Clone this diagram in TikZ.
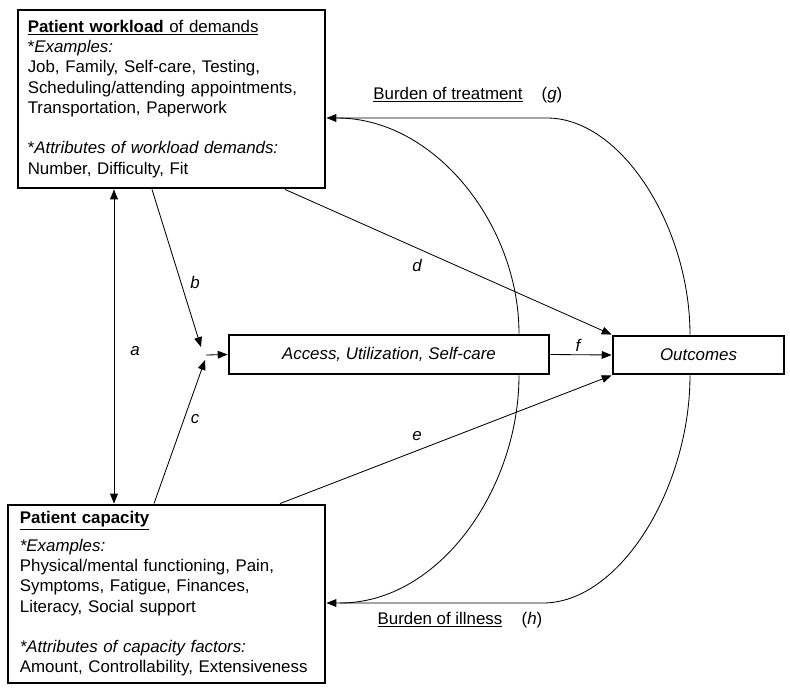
\documentclass[tikz,border=0pt]{standalone}
\usepackage{fontspec}
\setmainfont{Liberation Sans}
\usetikzlibrary{arrows.meta}
\begin{document}
\fontsize{12}{14.4}\selectfont
\begin{tikzpicture}[x=0.025cm, y=-0.025cm,
    bigbox/.style={draw, line width=2pt, align=left, inner ysep=4pt, minimum height=4.45cm},
    flatbox/.style={draw, line width=2pt, font=\itshape},
    conn/.style={line width=0.6pt, -{Triangle[length=7pt,width=5.5pt]}},
    plain/.style={line width=0.6pt},
    lab/.style={font=\itshape, inner sep=1pt}]
      \useasboundingbox (0,0) rectangle (790,692);

      \node[bigbox, text width=204.4pt, inner xsep=7pt] (workload) at (171.5,99){\underline{\textbf{Patient workload} of demands}\\
        {*}\textit{Examples:}\\
        Job, Family, Self-care, Testing,\\
        Scheduling/attending appointments,\\
        Transportation, Paperwork\\[14.4pt]
        {*}\textit{Attributes of workload demands:}\\
        Number, Difficulty, Fit};
      \node[bigbox, text width=208.5pt, inner xsep=8.5pt] (capacity) at (166.5,594){\underline{\textbf{Patient capacity}}\\[5pt]
        \textit{*Examples:}\\
        Physical/mental functioning, Pain,\\
        Symptoms, Fatigue, Finances,\\
        Literacy, Social support\\[14.4pt]
        \textit{*Attributes of capacity factors:}\\
        Amount, Controllability, Extensiveness};
      \node[flatbox, minimum width=8cm, minimum height=0.975cm] (access) at (389,354.5){Access, Utilization, Self-care};
      \node[flatbox, minimum width=4.275cm, minimum height=0.95cm] (outcomes) at (698.5,355){Outcomes};

      \coordinate (ax) at (114,351);
      \coordinate (bx) at (152,0);
      \coordinate (cx) at (154,0);
      \coordinate (dx) at (285,0);
      \coordinate (ex) at (280,0);
      \coordinate (btip) at (201,347);
      \coordinate (ctip) at (205,360);
      \coordinate (jn) at (206,355);
      \coordinate (ox) at (690,0);
      \coordinate (ix) at (519,0);
      \coordinate (gtop) at (547,118);
      \coordinate (gin) at (337,118);
      \coordinate (hbot) at (543,603);
      \coordinate (hin) at (340,603);

      \draw[conn, {Triangle[length=7pt,width=5.5pt]}-{Triangle[length=7pt,width=5.5pt]}] (workload.south -| ax) to (capacity.north -| ax);
      \draw[conn] (workload.south -| bx) to (btip);
      \draw[conn] (capacity.north -| cx) to (ctip);
      \draw[conn] (jn) to (access.west);
      \draw[conn] (workload.south -| dx) to (outcomes.north west);
      \draw[conn] (capacity.north -| ex) to (outcomes.south west);
      \draw[conn] (access.east) to (outcomes.west);

      \draw[conn] (outcomes.north -| ox) .. controls (690,228) and (622,118) .. (gtop) -- (workload.east |- gtop);
      \draw[plain] (access.north -| ix) .. controls (519,225) and (435,118) .. (gin);
      \draw[conn] (outcomes.south -| ox) .. controls (690,488) and (620,603) .. (hbot) -- (capacity.east |- hbot);
      \draw[plain] (access.south -| ix) .. controls (519,488) and (440,603) .. (hin);

      \node[lab] (la) at (135,351){a};
      \node[lab] (lb) at (195,282){b};
      \node[lab] (lc) at (195,419){c};
      \node[lab] (ld) at (417,265){d};
      \node[lab] (le) at (417,436){e};
      \node[lab] (lf) at (578,345){f};

      \node (burdent) at (448,95){\underline{Burden of treatment}};
      \node (lg) at (552,95){(\textit{g})};
      \node (burdeni) at (440,620){\underline{Burden of illness}};
      \node (lh) at (532,620){(\textit{h})};
    \end{tikzpicture}
\end{document}
